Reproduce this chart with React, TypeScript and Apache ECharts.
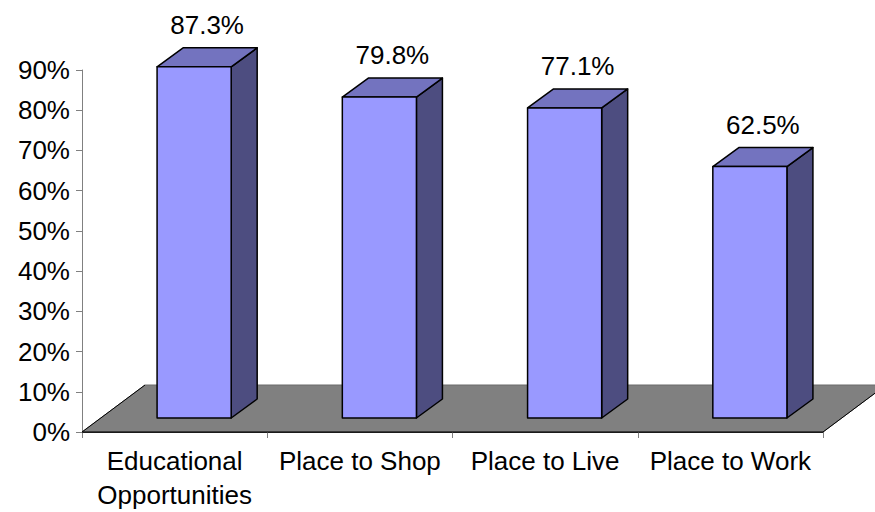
import React, { useEffect, useRef } from "react";
import * as echarts from "echarts";

const categories = ["Educational\nOpportunities", "Place to Shop", "Place to Live", "Place to Work"];
const values = [87.3, 79.8, 77.1, 62.5];
const yMin = 0;
const yMax = 90;
const yStep = 10;

const FONT = '"Liberation Sans", Arial, sans-serif';
const FS = 26;

export default function App() {
  const ref = useRef<HTMLDivElement>(null);
  useEffect(() => {
    if (!ref.current) return;
    const chart = echarts.init(ref.current, null, { renderer: "svg" });
    const depthX = 26;
    const depthY = 19;
    const floorDX = 63;
    const floorDY = 47;
    const barShiftX = 19.5;
    const barShiftY = 14;

    chart.setOption({
      animation: false,
      backgroundColor: "#ffffff",
      grid: { left: 82, right: 52, top: 70, bottom: 80, containLabel: false },
      xAxis: {
        type: "category",
        data: categories,
        boundaryGap: true,
        axisLine: { show: true, lineStyle: { color: "#000000", width: 1 } },
        axisTick: { show: true, length: 6, lineStyle: { color: "#808080" } },
        axisLabel: {
          color: "#000000",
          fontFamily: FONT,
          fontSize: FS,
          lineHeight: 34,
          margin: 12,
          interval: 0,
        },
        splitLine: { show: false },
      },
      yAxis: {
        type: "value",
        min: yMin,
        max: yMax,
        interval: yStep,
        axisLine: { show: true, lineStyle: { color: "#808080", width: 1 } },
        axisTick: { show: true, length: 6, lineStyle: { color: "#808080" } },
        axisLabel: {
          color: "#000000",
          fontFamily: FONT,
          fontSize: FS,
          margin: 12,
          formatter: "{value}%",
        },
        splitLine: { show: false },
      },
      series: [
        {
          type: "custom",
          z: 1,
          data: [[0, 0]],
          renderItem: (params: any, api: any) => {
            const cs = params.coordSys;
            const fy = cs.y + cs.height;
            const by = fy - floorDY;
            const lx = cs.x;
            const rx = cs.x + cs.width;
            return {
              type: "group",
              children: [
                {
                  type: "polygon",
                  shape: { points: [[lx, fy], [rx, fy], [rx + floorDX, by], [lx + floorDX, by]] },
                  style: { fill: "#808080", stroke: "#6a6a6a", lineWidth: 1 },
                },
                {
                  type: "line",
                  shape: { x1: lx, y1: fy, x2: lx + floorDX, y2: by },
                  style: { stroke: "#000000", lineWidth: 1 },
                },
                {
                  type: "line",
                  shape: { x1: rx, y1: fy, x2: rx + floorDX, y2: by },
                  style: { stroke: "#000000", lineWidth: 1 },
                },
                {
                  type: "line",
                  shape: { x1: lx, y1: fy, x2: rx, y2: fy },
                  style: { stroke: "#000000", lineWidth: 1 },
                },
              ],
            };
          },
        },
        {
          type: "custom",
          z: 2,
          data: values.map((v, i) => [i, v]),
          renderItem: (params: any, api: any) => {
            const idx = api.value(0);
            const v = api.value(1);
            const base = api.coord([idx, 0]);
            const topP = api.coord([idx, v]);
            const bandW = api.size([1, 0])[0];
            const w = bandW * 0.4;
            const cx = base[0] + barShiftX;
            const xl = cx - w / 2;
            const xr = cx + w / 2;
            const yb = base[1] - barShiftY;
            const yt = topP[1] - barShiftY;
            const stroke = { stroke: "#000000", lineWidth: 1.5, lineJoin: "round" };
            return {
              type: "group",
              children: [
                {
                  type: "polygon",
                  shape: { points: [[xr, yb], [xr + depthX, yb - depthY], [xr + depthX, yt - depthY], [xr, yt]] },
                  style: { fill: "#4d4d80", ...stroke },
                },
                {
                  type: "polygon",
                  shape: { points: [[xl, yt], [xl + depthX, yt - depthY], [xr + depthX, yt - depthY], [xr, yt]] },
                  style: { fill: "#7373bf", ...stroke },
                },
                {
                  type: "rect",
                  shape: { x: xl, y: yt, width: w, height: yb - yt },
                  style: { fill: "#9999ff", ...stroke },
                },
                {
                  type: "text",
                  style: {
                    text: v.toFixed(1) + "%",
                    x: cx + depthX / 2,
                    y: yt - depthY - 23,
                    fill: "#000000",
                    fontFamily: FONT,
                    fontSize: FS,
                    align: "center",
                    verticalAlign: "middle",
                    textAlign: "center",
                    textVerticalAlign: "middle",
                  },
                },
              ],
            };
          },
        },
      ],
    });
    return () => chart.dispose();
  }, []);
  return <div ref={ref} style={{ width: 875, height: 512, position: "absolute", left: 0, top: 0 }} />;
}
